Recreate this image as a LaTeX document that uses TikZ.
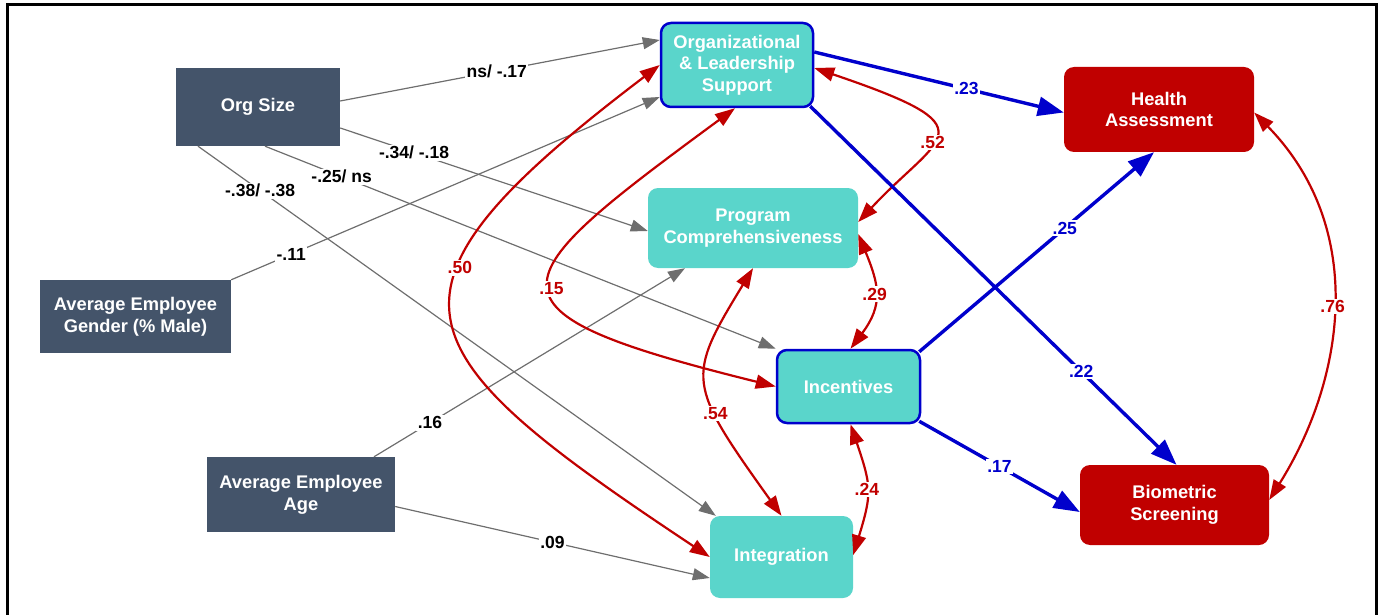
\documentclass[tikz,border=0pt]{standalone}
\usepackage{fontspec}
\setmainfont{Liberation Sans}
\usepackage{xcolor}
\usepackage{tikz}
\usetikzlibrary{arrows.meta,calc}
\definecolor{ctrlcolor}{HTML}{44546A}
\definecolor{medcolor}{HTML}{5AD5CB}
\definecolor{outcolor}{HTML}{C00000}
\definecolor{corrcolor}{HTML}{C00000}
\definecolor{effcolor}{HTML}{0000CC}
\definecolor{incolor}{HTML}{6E6E6E}

\begin{document}
\begin{tikzpicture}[x=1pt, y=-1pt,
  box/.style={rectangle, inner sep=0pt, align=center, text=white, font=\fontsize{18.3}{21.7}\selectfont\bfseries},
  ctrlbox/.style={box, fill=ctrlcolor},
  medbox/.style={box, fill=medcolor, rounded corners=10pt},
  outbox/.style={box, fill=outcolor, rounded corners=10pt},
  rim/.style={draw=effcolor, line width=2.5pt},
  coef/.style={fill=white, inner sep=1.5pt, font=\fontsize{17.5}{20}\selectfont\bfseries},
  inpath/.style={draw=incolor, line width=1.2pt, -{Triangle[length=17pt,width=12pt]}},
  corrpath/.style={color=corrcolor, line width=2.2pt, <->, >={Triangle[length=20pt,width=14pt]}},
  effpath/.style={color=effcolor, line width=3.4pt, -{Triangle[length=26pt,width=19pt]}}]%
\useasboundingbox (0,0) rectangle (1379,615);%
\draw[line width=3pt] (7,615) -- (7,5) -- (1376,5) -- (1376,615);%
\node[ctrlbox, minimum width=164pt, minimum height=78pt] (orgsize) at (258,107) {Org Size};%
\node[ctrlbox, minimum width=191pt, minimum height=73pt] (gender) at (135.5,316.5) {Average Employee\\Gender (\% Male)};%
\node[ctrlbox, minimum width=188pt, minimum height=75pt] (age) at (301,494.5) {Average Employee\\Age};%
\node[medbox, rim, minimum width=152pt, minimum height=84pt] (olsupport) at (737,65) {Organizational\\\& Leadership\\Support};%
\node[medbox, minimum width=210pt, minimum height=80pt] (progcomp) at (753,228) {Program\\Comprehensiveness};%
\node[medbox, rim, minimum width=143pt, minimum height=73pt] (incent) at (848.5,386.5) {Incentives};%
\node[medbox, minimum width=143pt, minimum height=82pt] (integ) at (781.5,557) {Integration};%
\node[outbox, minimum width=190pt, minimum height=85pt] (health) at (1159,109.5) {Health\\Assessment};%
\node[outbox, minimum width=189pt, minimum height=80pt] (biomet) at (1174.5,505) {Biometric\\Screening};%
\draw[inpath] ($(orgsize.east)+(0,-6)$) -- node[coef, pos=0.49] {ns/ -.17} ($(olsupport.west)+(0,-25)$);%
\draw[inpath] ($(orgsize.east)+(0,21)$) -- node[coef, pos=0.24] {-.34/ -.18} ($(progcomp.west)+(0,3)$);%
\draw[inpath] ($(orgsize.south)+(7,0)$) -- node[coef, pos=0.15] {-.25/ ns} (incent.north west);%
\draw[inpath] ($(orgsize.south)+(-60,0)$) -- node[coef, pos=0.12] {-.38/ -.38} ($(integ.north west)+(6,0)$);%
\draw[inpath] (gender.north east) -- node[coef, pos=0.14] {-.11} ($(olsupport.west)+(0,32)$);%
\draw[inpath] ($(age.north)+(73,0)$) -- node[coef, pos=0.18] {.16} ($(progcomp.south)+(-68,0)$);%
\draw[inpath] ($(age.east)+(0,12)$) -- node[coef, pos=0.5] {.09} ($(integ.west)+(0,21)$);%
\draw[corrpath] (olsupport.west) .. controls +(-300,228) and +(-315,-209) .. node[coef, pos=0.38] {.50} (integ.west);%
\draw[corrpath] ($(olsupport.south)+(-2,0)$) .. controls +(-238,175) and +(-307,-76) .. node[coef, pos=0.52] {.15} (incent.west);%
\draw[corrpath] ($(olsupport.east)+(0,3)$) .. controls +(180,61) and +(82,-88) .. node[coef, pos=0.56] {.52} ($(progcomp.east)+(0,-6)$);%
\draw[corrpath] ($(progcomp.east)+(0,6)$) .. controls +(21,51) and +(33,-44) .. node[coef, pos=0.5] {.29} ($(incent.north)+(2,0)$);%
\draw[corrpath] (progcomp.south) .. controls +(-67,110) and +(-95,-133) .. node[coef, pos=0.65] {.54} (integ.north);%
\draw[corrpath] ($(incent.south)+(2,0)$) .. controls +(21,62) and +(19,-62) .. node[coef, pos=0.5] {.24} ($(integ.east)+(0,-2)$);%
\draw[corrpath] ($(health.east)+(0,3)$) .. controls +(115,118) and +(74,-118) .. node[coef, pos=0.5] {.76} ($(biomet.east)+(0,-5)$);%
\draw[effpath] ($(olsupport.east)+(0,-13)$) -- node[coef, pos=0.61] {.23} ($(health.west)+(0,3)$);%
\draw[effpath] ($(olsupport.south east)+(-4,-2)$) -- node[coef, pos=0.74] {.22} ($(biomet.north)+(2,0)$);%
\draw[effpath] ($(incent.north east)+(-2,3)$) -- node[coef, pos=0.62] {.25} ($(health.south)+(-5,0)$);%
\draw[effpath] ($(incent.south east)+(-2,-3)$) -- node[coef, pos=0.5] {.17} ($(biomet.west)+(0,7)$);%
\end{tikzpicture}
\end{document}
